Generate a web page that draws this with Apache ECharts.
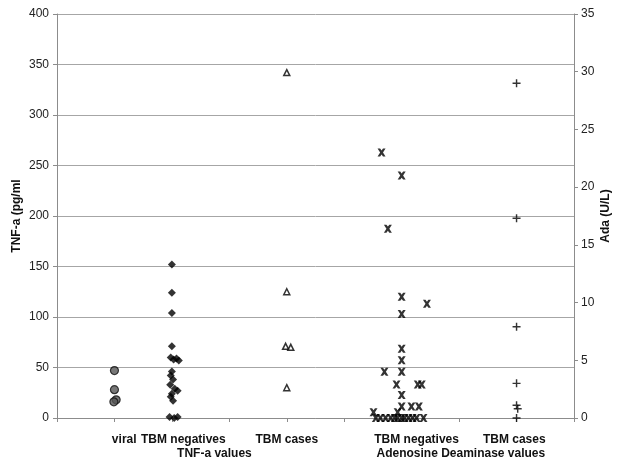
<!DOCTYPE html>
<html>
<head>
<meta charset="utf-8">
<script src="https://cdn.jsdelivr.net/npm/echarts@6/dist/echarts.min.js"></script>
<style>
  html, body { margin: 0; padding: 0; background: #fff; }
  #chart { width: 631px; height: 466px; }
</style>
</head>
<body>
<div id="chart"></div>
<script>
// group labels under the x axis (position on the 0..9 x scale)
const groupNames = ['viral', 'TBM negatives', 'TBM cases', 'TBM negatives', 'TBM cases'];
const groupPos = [1.17, 2.2, 4, 6.26, 7.96];
const panelNames = ['TNF-a values', 'Adenosine Deaminase values'];
const panelPos = [2.74, 7.03];

// TNF-a (pg/ml), left axis  [x, value]
const tnfViral = [[1, 47], [1, 28], [1.03, 18], [0.99, 16]];
const tnfNegatives = [
    [2, 152], [2, 124], [2, 104], [2, 71], [1.98, 60], [2.08, 59], [2.03, 58], [2.12, 57],
    [2, 46], [1.98, 42], [2.02, 38], [1.97, 33], [2.05, 29], [2.1, 27], [2, 24],
    [1.98, 21], [2.02, 17], [1.96, 1], [2.04, 0], [2.1, 1]
];
const tnfCases = [[4, 342], [4, 125], [3.98, 71], [4.07, 70], [4, 30]];

// Ada (U/L), right axis  [x, value]
const adaNegatives = [
    [5.65, 23], [6, 21], [5.76, 16.4], [6, 10.5], [6.44, 9.9], [6, 9], [6, 6], [6, 5],
    [5.7, 4], [6, 4], [5.91, 2.9], [6.28, 2.9], [6.35, 2.9], [6, 2], [6, 1], [6.17, 1],
    [6.3, 1], [5.51, 0.5], [5.93, 0.5],
    [5.55, 0], [5.63, 0], [5.72, 0], [5.81, 0], [5.88, 0], [5.93, 0], [6, 0],
    [6.05, 0], [6.12, 0], [6.19, 0], [6.26, 0], [6.38, 0]
];
const adaCases = [[8, 29], [8, 17.3], [8, 7.9], [8, 3], [8, 1.1], [8.02, 0.8], [8, 0]];

const tnfTicks = { min: 0, max: 400, interval: 50 };
const adaTicks = { min: 0, max: 35, interval: 5 };

const crossPath = 'path://M0,0 L3.2,0 L5,2.4 L6.8,0 L10,0 L6.8,5 L10,10 L6.8,10 L5,7.6 L3.2,10 L0,10 L3.2,5 Z';
const plusPath = 'path://M4.1,0 L5.9,0 L5.9,4.1 L10,4.1 L10,5.9 L5.9,5.9 L5.9,10 L4.1,10 L4.1,5.9 L0,5.9 L0,4.1 L4.1,4.1 Z';

function labelAt(names, positions) {
    return function (v) {
        for (let i = 0; i < positions.length; i++) {
            if (Math.abs(v - positions[i]) < 1e-6) return names[i];
        }
        return '';
    };
}

const chart = echarts.init(document.getElementById('chart'));
const font = 'Liberation Sans, Arial, sans-serif';
const axisGray = '#8c8c8c';

chart.setOption({
    animation: false,
    textStyle: { fontFamily: font },
    grid: { left: 57, right: 57, top: 14, bottom: 48, containLabel: false, outerBoundsMode: 'none' },
    xAxis: [{
        type: 'value',
        min: 0,
        max: 9,
        interval: 1,
        axisLine: { show: true, onZero: false, lineStyle: { color: axisGray } },
        axisTick: { show: true, length: 4, lineStyle: { color: axisGray } },
        splitLine: { show: false },
        axisLabel: {
            customValues: groupPos,
            formatter: labelAt(groupNames, groupPos),
            margin: 16,
            color: '#111',
            fontWeight: 'bold',
            fontSize: 12,
            fontFamily: font
        }
    }, {
        type: 'value',
        position: 'bottom',
        offset: 14,
        min: 0,
        max: 9,
        axisLine: { show: false, onZero: false },
        axisTick: { show: false },
        splitLine: { show: false },
        axisLabel: {
            customValues: panelPos,
            formatter: labelAt(panelNames, panelPos),
            margin: 16,
            color: '#111',
            fontWeight: 'bold',
            fontSize: 12,
            fontFamily: font
        }
    }],
    yAxis: [{
        type: 'value',
        position: 'left',
        min: tnfTicks.min,
        max: tnfTicks.max,
        interval: tnfTicks.interval,
        name: 'TNF-a (pg/ml',
        nameLocation: 'middle',
        nameRotate: 90,
        nameGap: 34,
        nameMoveOverlap: false,
        nameTextStyle: { color: '#111', fontWeight: 'bold', fontSize: 12, fontFamily: font },
        axisLine: { show: true, onZero: false, lineStyle: { color: axisGray } },
        axisTick: { show: true, length: 4, lineStyle: { color: axisGray } },
        splitLine: { show: true, lineStyle: { color: '#a6a6a6' } },
        axisLabel: { color: '#222', fontSize: 12, margin: 8, fontFamily: font }
    }, {
        type: 'value',
        position: 'right',
        min: adaTicks.min,
        max: adaTicks.max,
        interval: adaTicks.interval,
        name: 'Ada (U/L)',
        nameLocation: 'middle',
        nameRotate: 90,
        nameGap: 26,
        nameMoveOverlap: false,
        nameTextStyle: { color: '#111', fontWeight: 'bold', fontSize: 12, fontFamily: font },
        axisLine: { show: true, onZero: false, lineStyle: { color: axisGray } },
        axisTick: { show: true, length: 4, lineStyle: { color: axisGray } },
        splitLine: { show: false },
        axisLabel: { color: '#222', fontSize: 12, margin: 7, fontFamily: font }
    }],
    series: [{
        name: 'viral',
        type: 'scatter',
        yAxisIndex: 0,
        symbol: 'circle',
        symbolSize: 8,
        itemStyle: { color: '#555', borderColor: '#111', borderWidth: 1.2 },
        data: tnfViral
    }, {
        name: 'TNF-a TBM negatives',
        type: 'scatter',
        yAxisIndex: 0,
        symbol: 'diamond',
        symbolSize: 8,
        itemStyle: { color: '#000' },
        data: tnfNegatives
    }, {
        name: 'TNF-a TBM cases',
        type: 'scatter',
        yAxisIndex: 0,
        symbol: 'triangle',
        symbolSize: 6,
        itemStyle: { color: '#fff', borderColor: '#000', borderWidth: 1.5 },
        data: tnfCases
    }, {
        name: 'ADA TBM negatives',
        type: 'scatter',
        yAxisIndex: 1,
        symbol: crossPath,
        symbolSize: 8,
        itemStyle: { color: '#000' },
        data: adaNegatives
    }, {
        name: 'ADA TBM cases',
        type: 'scatter',
        yAxisIndex: 1,
        symbol: plusPath,
        symbolSize: 8,
        itemStyle: { color: '#000' },
        data: adaCases
    }]
});
</script>
</body>
</html>
